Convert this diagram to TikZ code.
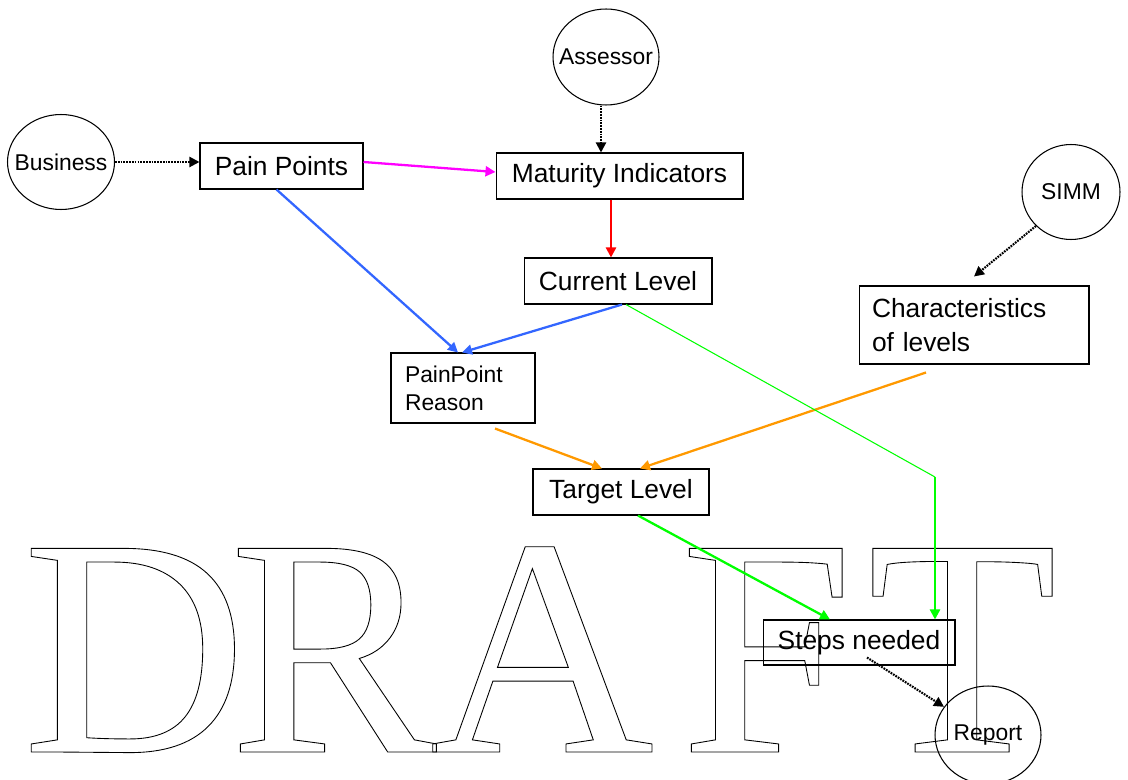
\documentclass[tikz,border=0pt]{standalone}
\usepackage{fontspec}
\setmainfont{Liberation Sans}
\newfontfamily\draftfont{Liberation Serif}
\usetikzlibrary{arrows.meta,calc,shapes.geometric}
\definecolor{linkmagenta}{RGB}{255,0,255}
\definecolor{linkblue}{RGB}{51,102,255}
\definecolor{linkorange}{RGB}{255,153,0}
\definecolor{linkgreen}{RGB}{0,255,0}
\newcommand{\outlined}[1]{\special{pdf:literal direct 1 Tr 0.5 w}#1\special{pdf:literal direct 0 Tr}}

\begin{document}
\begin{tikzpicture}[x=0.02cm,y=-0.02cm,>={Triangle[length=0.2cm,width=0.2cm]},
  box/.style={draw,line width=0.6pt,inner sep=0pt,minimum height=0.92cm,font=\fontsize{15}{19}\selectfont},
  actor/.style={draw,ellipse,line width=0.6pt,inner sep=0pt,font=\fontsize{13}{16}\selectfont},
  dots/.style={->,line width=1.2pt,dash pattern=on 1pt off 0.6pt},
  flow/.style={->,line width=1.3pt}]
\useasboundingbox (0,0) rectangle (1128,780);

% ---------------- watermark ----------------
\begin{scope}
\node[anchor=base west,inner sep=0pt,font=\draftfont\fontsize{177}{177}\selectfont] (draft) at (22,752)
  {\outlined{D\kern-10pt R\kern-4pt A\kern15pt F\kern8pt T}};
\end{scope}

% ---------------- actors ----------------
\node[actor,minimum width=2.14cm,minimum height=1.9cm] (business) at (61,162) {\makebox[0pt]{Business}};
\node[actor,minimum width=2.12cm,minimum height=1.92cm] (assessor) at (606,57) {\makebox[0pt]{Assessor}};
\node[actor,minimum width=1.96cm,minimum height=1.9cm] (simm) at (1071,192) {\makebox[0pt]{SIMM}};
\node[actor,minimum width=2.12cm,minimum height=1.96cm] (report) at (988,735) {\makebox[0pt]{Report}};

% ---------------- boxes ----------------
\node[box,minimum width=3.26cm] (pains) at (281.5,166) {Pain Points};
\node[box,minimum width=4.94cm] (maturity) at (619.5,176) {Maturity Indicators};
\node[box,minimum width=3.76cm] (current) at (618,281) {Current Level};
\node[box,minimum width=4.6cm,minimum height=1.56cm,text width=4.08cm,align=left] (chars) at (974,325) {Characteristics\\of levels};
\node[box,minimum width=2.88cm,minimum height=1.4cm,text width=2.32cm,align=left,font=\fontsize{13}{16}\selectfont] (reason) at (463,388) {PainPoint\\Reason};
\node[box,minimum width=3.52cm] (target) at (621,492) {Target Level};
\node[box,minimum width=3.84cm,minimum height=0.9cm] (steps) at (859,642.5) {Steps needed};
\coordinate (bend) at (935,477);

% ---------------- inputs ----------------
\draw[dots] (business.east) -- (pains.west |- business.east);
\draw[dots] ($(assessor.south)+(-5,0)$) -- ($(maturity.north)+(-18.5,0)$);
\draw[dots] (simm.south west) -- ($(chars.north)+(0,-9)$);
\draw[dots] ($(steps.south)+(8,-8)$) -- (report);

% ---------------- flow ----------------
\draw[flow,linkmagenta] ($(pains.east)+(0,-4)$) -- ($(maturity.west)+(0,-4)$);
\draw[flow,red] ($(maturity.south)+(-8.5,0)$) -- ($(current.north)+(-7,0)$);
\draw[flow,linkblue] ($(pains.south)+(-5,0)$) -- ($(reason.north)+(-5,0)$);
\draw[flow,linkblue] ($(current.south)+(4,0)$) -- ($(reason.north)+(-1,0)$);
\draw[flow,linkorange] ($(reason.south)+(32,5)$) -- ($(target.north)+(-19,0)$);
\draw[flow,linkorange] ($(chars.south)+(-48,8)$) -- ($(target.north)+(19,0)$);
\draw[linkgreen,line width=0.6pt] ($(current.south)+(8,0)$) -- (bend);
\draw[flow,linkgreen] (bend) -- (bend |- steps.north);
\draw[flow,linkgreen] ($(target.south)+(17,0)$) -- ($(steps.north)+(-29,0)$);

\end{tikzpicture}
\end{document}
